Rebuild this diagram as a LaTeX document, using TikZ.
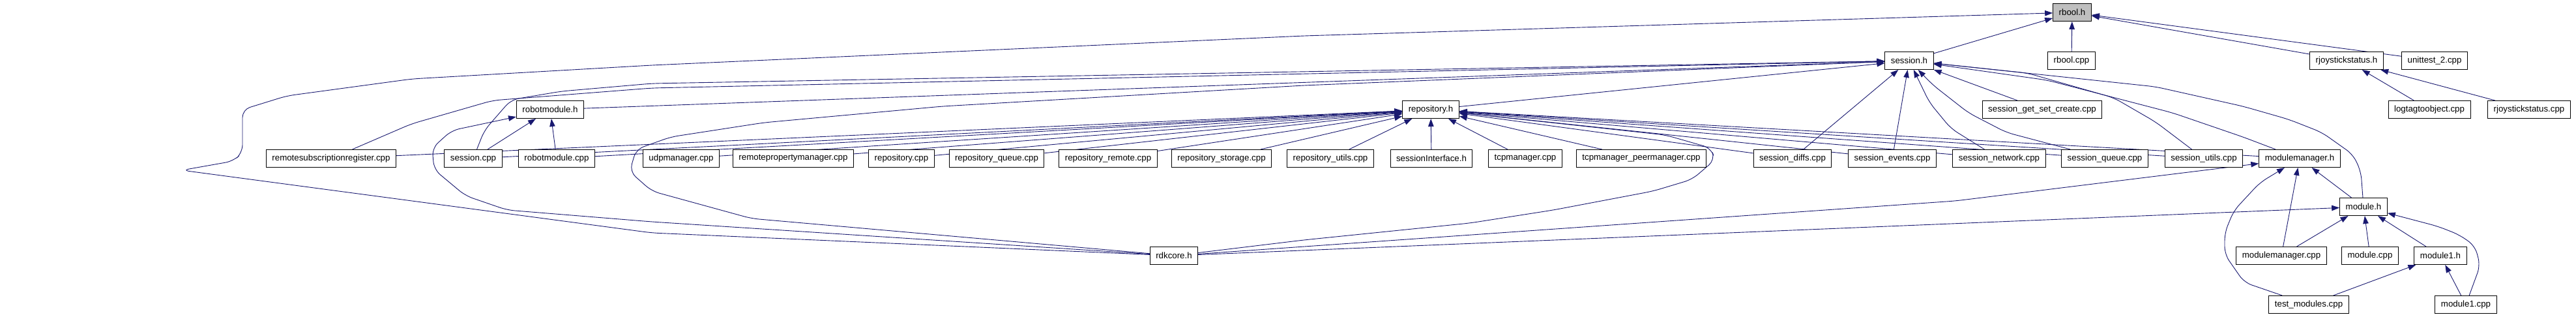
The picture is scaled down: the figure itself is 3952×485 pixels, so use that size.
\documentclass[tikz,border=0pt]{standalone}
\usepackage{fontspec}
\setmainfont{Liberation Sans}
\usetikzlibrary{arrows.meta, backgrounds}
\definecolor{edgeblue}{HTML}{191970}
\definecolor{focusgray}{HTML}{BFBFBF}

\begin{document}
\begin{tikzpicture}[x=1pt, y=-1pt,
    file/.style={draw=black, line width=1pt, fill=white, minimum height=27pt,
      inner xsep=9pt, inner ysep=0pt, font=\fontsize{13.3}{15}\selectfont},
    incl/.style={draw=edgeblue, line width=0.9pt, rounded corners=12pt,
      -{Triangle[length=12pt, width=8.5pt]}}]
  \useasboundingbox (0,0) rectangle (3952,485);

  % files, row by row
  \node[file, fill=focusgray] (rbool) at (3179,19) {rbool.h};
  \foreach \n/\x/\lab in {sessionh/2929/session.h, rboolcpp/3178/rbool.cpp,
      rjoyh/3600/rjoystickstatus.h, unittest/3735/unittest\_2.cpp}
    \node[file] (\n) at (\x,93) {\lab};
  \foreach \n/\x/\lab in {robotmoduleh/844/robotmodule.h, repositoryh/2195/repository.h,
      getset/3133/session\_get\_set\_create.cpp, logtag/3727/logtagtoobject.cpp,
      rjoycpp/3880/rjoystickstatus.cpp}
    \node[file] (\n) at (\x,168) {\lab};
  \foreach \n/\x/\lab in {%
      remotesub/508/remotesubscriptionregister.cpp, sessioncpp/726/session.cpp,
      robotmodulecpp/854/robotmodule.cpp, udp/1045/udpmanager.cpp,
      remoteprop/1217/remotepropertymanager.cpp, repocpp/1383/repository.cpp,
      repoqueue/1529/repository\_queue.cpp, reporemote/1700/repository\_remote.cpp,
      repostorage/1874/repository\_storage.cpp, repoutils/2041/repository\_utils.cpp,
      sessioninterface/2196/sessionInterface.h, tcp/2340/tcpmanager.cpp,
      tcppeer/2518/tcpmanager\_peermanager.cpp, sdiffs/2750/session\_diffs.cpp,
      sevents/2903/session\_events.cpp, snetwork/3067/session\_network.cpp,
      squeue/3229/session\_queue.cpp, sutils/3381/session\_utils.cpp,
      modulemanagerh/3528/modulemanager.h%
    }
    \node[file] (\n) at (\x,243) {\lab};
  \node[file] (moduleh) at (3626,317) {module.h};
  \foreach \n/\x/\lab in {rdkcore/1801/rdkcore.h, modulemanagercpp/3500/modulemanager.cpp,
      modulecpp/3636/module.cpp, module1h/3744/module1.h}
    \node[file] (\n) at (\x,392) {\lab};
  \node[file] (testmodules) at (3542,467) {test\_modules.cpp};
  \node[file] (module1cpp) at (3783,467) {module1.cpp};

  \begin{scope}[on background layer]
    % rbool.h
    \foreach \s in {sessionh, rboolcpp, rjoyh, unittest}
      \draw[incl] (\s) -- (rbool);
    \draw[incl] (rdkcore) -- (1000,357) -- (279,261) -- (358,247) -- (372,234)
      -- (372,168) -- (440,147) -- (632,121) -- (1000,100) -- (2000,55) -- (rbool);
    % session.h
    \foreach \s in {robotmoduleh, repositoryh, sdiffs, sevents, getset}
      \draw[incl] (\s) -- (sessionh);
    \draw[incl] (remotesub) -- (631,190) -- (756,154) -- (1000,135) -- (sessionh);
    \draw[incl] (sessioncpp) -- (743,200) -- (784,153) -- (861,140) -- (1000,128) -- (sessionh);
    \draw[incl] (rdkcore) -- (1153,335) -- (1000,293) -- (966,263) -- (976,229)
      -- (1029,210) -- (1172,188) -- (1446,163) -- (2000,131) -- (sessionh);
    \draw[incl] (snetwork) -- (2993,197) -- (2960,157) -- (sessionh);
    \draw[incl] (squeue) -- (3078,203) -- (3020,173) -- (2965,130) -- (sessionh);
    \draw[incl] (sutils) -- (3307,187) -- (3243,150) -- (3110,112) -- (sessionh);
    \draw[incl] (modulemanagerh) -- (3441,210) -- (3333,173) -- (3141,123) -- (sessionh);
    \draw[incl] (moduleh) -- (3622,263) -- (3610,237) -- (3562,203) -- (3511,183)
      -- (3441,163) -- (3307,133) -- (sessionh);
    % rjoystickstatus.h
    \foreach \s in {logtag, rjoycpp}
      \draw[incl] (\s) -- (rjoyh);
    % robotmodule.h
    \foreach \s in {sessioncpp, robotmodulecpp}
      \draw[incl] (\s) -- (robotmoduleh);
    \draw[incl] (rdkcore) -- (1000,340) -- (778,322) -- (714,300) -- (666,260)
      -- (663,227) -- (693,200) -- (robotmoduleh);
    % repository.h
    \foreach \s in {remotesub, sessioncpp, robotmodulecpp, udp, remoteprop, repocpp,
        repoqueue, reporemote, repostorage, repoutils, sessioninterface, tcp, tcppeer,
        sdiffs, sevents, snetwork, squeue, sutils, modulemanagerh}
      \draw[incl] (\s) -- (repositoryh);
    \draw[incl] (rdkcore) -- (2000,368) -- (2255,342) -- (2383,322) -- (2536,293)
      -- (2596,275) -- (2631,245) -- (2625,227) -- (2555,207) -- (repositoryh);
    % modulemanager.h
    \foreach \s in {moduleh, modulemanagercpp}
      \draw[incl] (\s) -- (modulemanagerh);
    \draw[incl] (rdkcore) -- (3000,308) -- (modulemanagerh);
    \draw[incl] (testmodules) -- (3443,433) -- (3413,390) -- (3413,357) -- (3427,323)
      -- (3467,280) -- (modulemanagerh);
    % module.h
    \foreach \s in {rdkcore, modulemanagercpp, modulecpp, module1h}
      \draw[incl] (\s) -- (moduleh);
    \draw[incl] (module1cpp) -- (3805,407) -- (3797,377) -- (3773,360) -- (3740,347)
      -- (moduleh);
    % module1.h
    \foreach \s in {testmodules, module1cpp}
      \draw[incl] (\s) -- (module1h);
  \end{scope}
\end{tikzpicture}
\end{document}
